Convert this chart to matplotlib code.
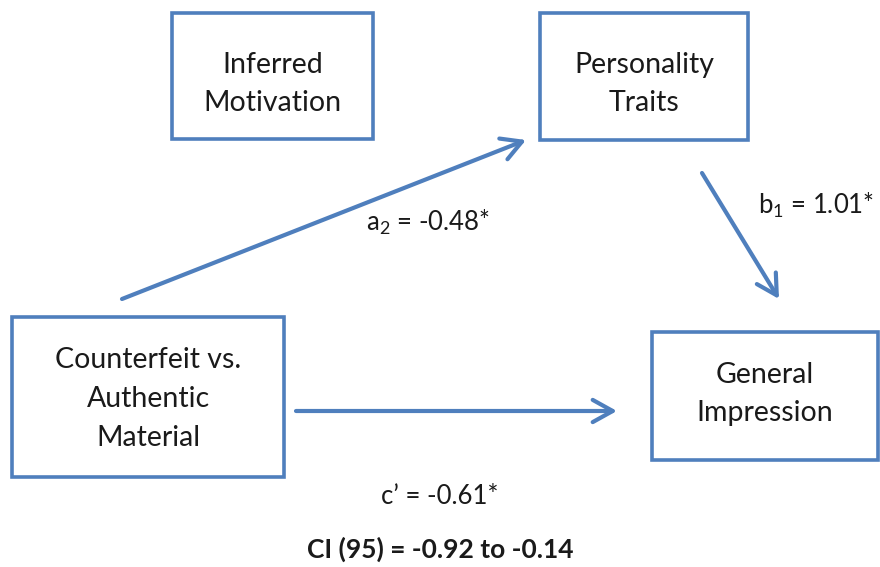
import matplotlib.pyplot as plt
from matplotlib.patches import Rectangle, FancyArrowPatch

# Contenido del diagrama
ETIQUETAS = ["Inferred\nMotivation", "Personality\nTraits",
             "Counterfeit vs.\nAuthentic\nMaterial", "General\nImpression"]
COEF_NOMBRES = ["a$_2$", "b$_1$", "c\u2019"]
COEF_VALORES = [-0.48, 1.01, -0.61]
IC_BAJO, IC_ALTO = -0.92, -0.14

AZUL = "#4f7fbd"
plt.rcParams['font.family'] = ['Lato', 'DejaVu Sans']
plt.rcParams['mathtext.fontset'] = 'custom'
plt.rcParams['mathtext.rm'] = 'Lato'

# Cajas: (x, y, ancho, alto) en pixeles, y centro vertical del texto
CAJAS = [(172, 13, 201, 126), (540, 13, 208, 127),
         (12, 317, 272, 160), (652, 332, 226, 128)]
CENTRO_TEXTO = [84, 84, 399, 394]

fig = plt.figure(figsize=(8.8, 5.67), dpi=100)
ax = fig.add_axes([0, 0, 1, 1])
ax.set_xlim(0, 880)
ax.set_ylim(567, 0)
ax.axis('off')

for (x, y, w, h), cy, texto in zip(CAJAS, CENTRO_TEXTO, ETIQUETAS):
    ax.add_patch(Rectangle((x, y), w, h, fill=False, edgecolor=AZUL, lw=2.6))
    ax.text(x + w / 2, cy, texto, ha='center', va='center',
            fontsize=20.5, color='#1a1a1a', linespacing=1.6)

# Flechas
flechas = [((122, 299), (526, 140)), ((702, 173), (779, 299)), ((296, 411), (617, 411))]
for ini, fin in flechas:
    ax.add_patch(FancyArrowPatch(ini, fin, arrowstyle='->,head_length=9,head_width=5',
                                 color=AZUL, lw=3, mutation_scale=1.6,
                                 shrinkA=0, shrinkB=0))

pos_coef = [(428, 222), (816, 205), (440, 496)]
for (x, y), nombre, valor in zip(pos_coef, COEF_NOMBRES, COEF_VALORES):
    ax.text(x, y, f"{nombre} = {valor:.2f}*", ha='center', va='center',
            fontsize=18.5, color='#1a1a1a')

ax.text(440, 549, f"CI (95) = {IC_BAJO:.2f} to {IC_ALTO:.2f}", ha='center', va='center',
        fontsize=19, fontweight='bold', color='#1a1a1a')

fig.savefig('out.png', dpi=100)
